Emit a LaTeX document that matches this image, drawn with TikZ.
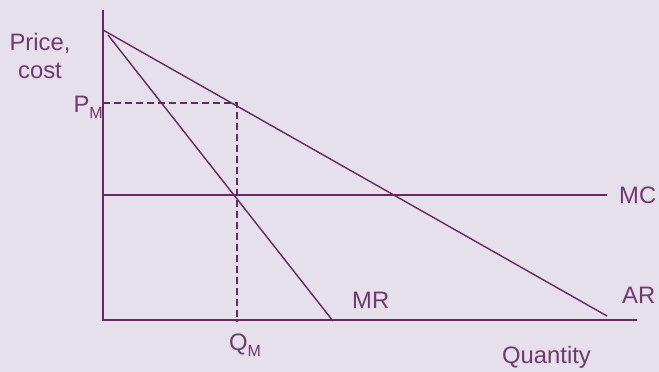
\documentclass[tikz,border=0pt]{standalone}
\usepackage{fontspec}
\setmainfont{Liberation Sans}
\usetikzlibrary{positioning}
\definecolor{plum}{RGB}{101,40,96}
\definecolor{lilac}{RGB}{229,224,235}
\newcommand\subM{\raisebox{-6pt}{\fontsize{16}{16}\selectfont M}}

\begin{document}
\begin{tikzpicture}[x=1pt,y=-1pt,
  axis/.style={draw=plum, line width=2pt},
  curve/.style={draw=plum, line width=1.4pt},
  guide/.style={draw=plum, line width=1.8pt, dash pattern=on 7pt off 4pt},
  lbl/.style={text=plum!92!white, font=\fontsize{23.8}{28}\selectfont, inner sep=0pt}]
\fill[lilac] (0,0) rectangle (659,372);
\useasboundingbox (0,0) rectangle (659,372);

% axes
\coordinate (top) at (103,10);
\coordinate (O) at (103,320);
\coordinate (end) at (637,320);
\draw[axis] (top) -- (O) -- (end);

% demand, marginal revenue and cost
\coordinate (ar0) at (103,30);
\coordinate (ar1) at (607,316);
\coordinate (mr0) at (108,35);
\coordinate (mr1) at (333,321);
\coordinate (mc0) at (103,195);
\coordinate (mc1) at (607,195);
\draw[curve] (ar0) -- (ar1);
\draw[curve] (mr0) -- (mr1);
\draw[curve] (mc0) -- (mc1);

% monopoly price and output
\coordinate (pm) at (103,103);
\coordinate (mono) at (237,103);
\coordinate (qm) at (237,322);
\draw[guide] (pm) -- (mono) -- (qm);

% labels
\node[lbl, align=center] (price) at (40,56) {Price,\\cost};
\node[lbl, anchor=base east] (PM) at (103,112) {P\subM};
\node[lbl, anchor=base west] (QM) at (229,350) {Q\subM};
\node[lbl, anchor=base west] (MR) at (352,308) {MR};
\node[lbl, anchor=base west] (AR) at (622,303) {AR};
\node[lbl, anchor=base west] (MC) at (619,203) {MC};
\node[lbl, anchor=base west] (qty) at (502,363) {Quantity};
\end{tikzpicture}
\end{document}
